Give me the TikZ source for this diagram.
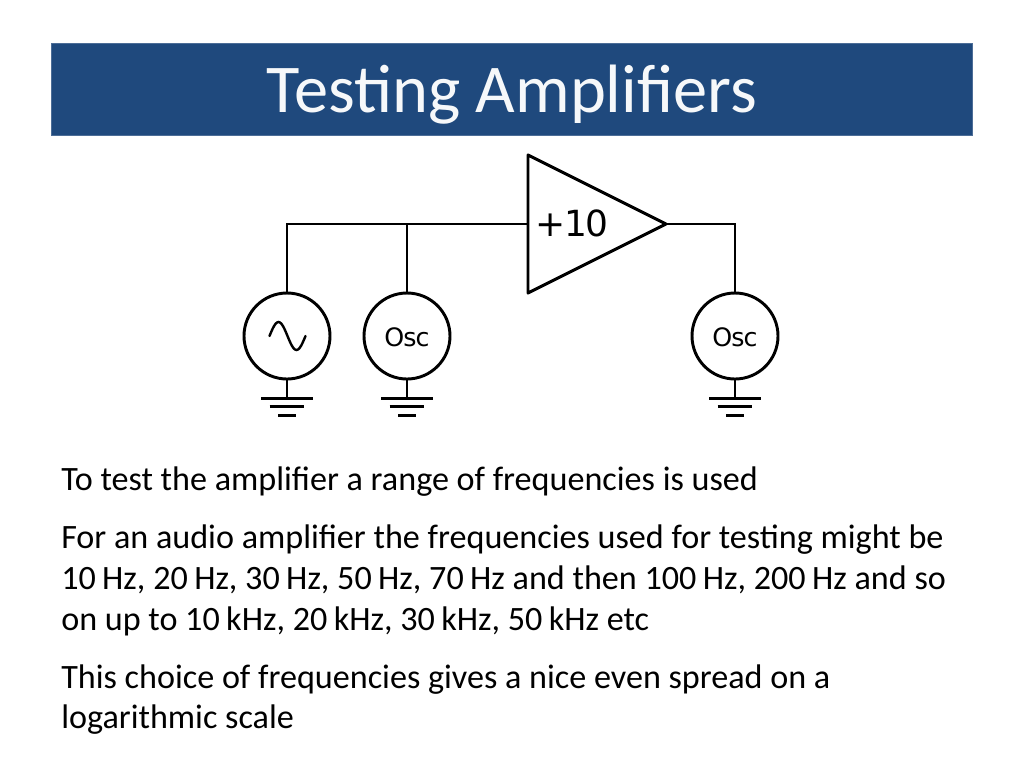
\documentclass[tikz,border=0pt]{standalone}
\usepackage{fontspec}
\setmainfont{Carlito}
\newfontfamily\circuitfont[LetterSpace=-4]{DejaVu Sans}
\usetikzlibrary{positioning}
\definecolor{titleblue}{HTML}{1F497D}
\newcommand{\unitgap}{\hspace{0.187em}}
\tikzset{
  wire/.style = {line width=2.2pt, black},
  source/.style = {circle, draw, wire, minimum size=64.5pt, inner sep=0pt,
                   text height=15.5pt, text depth=0pt,
                   font=\circuitfont\fontsize{19}{20}\selectfont},
  bodyline/.style = {anchor=base west, inner sep=0pt, text=black,
                     font=\fontsize{25.6}{30}\selectfont},
}
\begin{document}
\begin{tikzpicture} [x=0.75pt, y=-0.75pt, node distance = 90pt, on grid]
    \useasboundingbox (0,0) rectangle (1024,768);
    \node (banner) [fill=titleblue, draw=titleblue!80, minimum width=691pt, minimum height=69pt,
                    inner sep=0pt] at (512,89) {};
    \node (title) [anchor=base, inner sep=0pt, text=white!96!titleblue,
                   font=\fontsize{51.3}{60}\selectfont] at (512,112) {Testing Amplifiers};

    % amplifier
    \coordinate (ampA) at (528,155);
    \coordinate (ampB) at (528,293);
    \coordinate (ampOut) at (666,224);
    \coordinate (ampIn) at (528,224);
    \draw [wire, line join=round] (ampA) -- (ampOut) -- (ampB) -- cycle;
    \node (gain) [anchor=west, inner sep=0pt, font=\circuitfont\fontsize{27}{30}\selectfont]
        at (535.5,223.5) {+10};

    % sources
    \node (sig) [source] at (287,336) {};
    \node (oscIn) [source, right = of sig] {Osc};
    \node (oscOut) [source] at (735,336) {Osc};

    % wiring
    \coordinate (tee) at (oscIn |- ampIn);
    \draw [wire, line join=miter] (sig.north) |- (ampIn);
    \draw [wire] (oscIn.north) -- (tee);
    \draw [wire, line join=miter] (ampOut) -| (oscOut.north);

    % sine
    \draw [wire, line width=1.8pt, line cap=round, shift={(sig.center)}]
        plot [smooth, samples=25, domain=-18:18] ({\x+0.5},{14*sin(10*\x)});

    % grounds
    \foreach \src in {sig, oscIn, oscOut} {
        \coordinate (\src Gnd) at ([yshift=-13.5pt]\src.south);
        \draw [wire] (\src.south) -- (\src Gnd);
        \draw [wire] ([xshift=-19.5pt]\src Gnd) -- ([xshift=19.5pt]\src Gnd);
        \draw [wire] ([xshift=-13pt,yshift=-6.3pt]\src Gnd) -- ([xshift=13pt,yshift=-6.3pt]\src Gnd);
        \draw [wire] ([xshift=-6.5pt,yshift=-12.5pt]\src Gnd) -- ([xshift=6.5pt,yshift=-12.5pt]\src Gnd);
    }

    % text
    \node (lineA) [bodyline] at (61,490) {To test the amplifier a range of frequencies is used};
    \node (lineB) [bodyline] at (61,548) {For an audio amplifier the frequencies used for testing might be};
    \node (lineC) [bodyline] at (61,589) {10\unitgap Hz, 20\unitgap Hz, 30\unitgap Hz, 50\unitgap Hz, 70\unitgap Hz and then 100\unitgap Hz, 200\unitgap Hz and so};
    \node (lineD) [bodyline] at (61,630) {on up to 10\unitgap kHz, 20\unitgap kHz, 30\unitgap kHz, 50\unitgap kHz etc};
    \node (lineE) [bodyline] at (61,688) {This choice of frequencies gives a nice even spread on a};
    \node (lineF) [bodyline] at (61,728.5) {logarithmic scale};
\end{tikzpicture}
\end{document}
